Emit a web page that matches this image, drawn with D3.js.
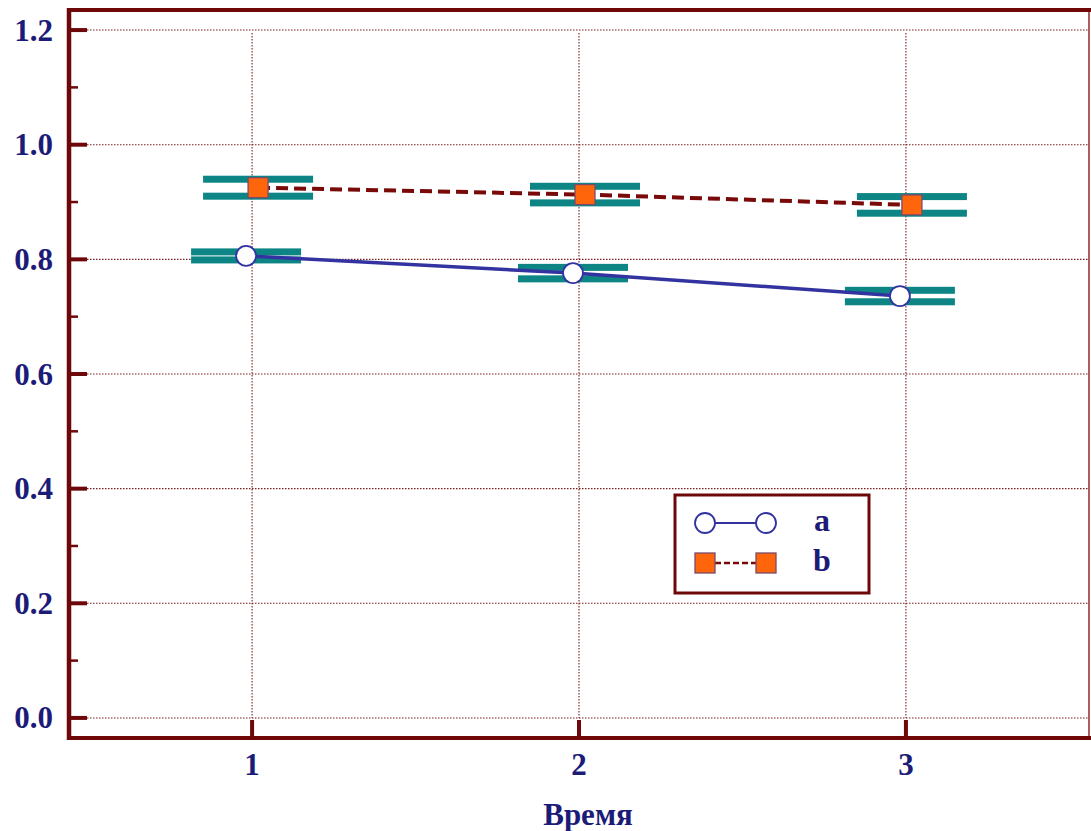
<!DOCTYPE html>
<html><head><meta charset="utf-8">
<script src="https://cdn.jsdelivr.net/npm/d3@7"></script>
<style>html,body{margin:0;padding:0;background:#fff;}svg{display:block;}</style>
</head><body><svg id="c" width="1091" height="831"></svg>
<script>
// ---- data ----
const times = [1, 2, 3];
const seriesA = [0.806, 0.776, 0.736];
const errA = [0.007, 0.010, 0.010];
const seriesB = [0.925, 0.913, 0.895];
const errB = [0.0148, 0.0145, 0.0145];
const yTicks = [0.0, 0.2, 0.4, 0.6, 0.8, 1.0, 1.2];
const yMinorTicks = [0.1, 0.3, 0.5, 0.7, 0.9, 1.1];
const xTicks = [1, 2, 3];
const legendLabels = ["a", "b"];
const xTitle = "Время";

// ---- style ----
const axisCol = "#6e0808", textCol = "#1c1c78", gridCol = "#7a1e1e";
const lineA = "#3232a0", lineB = "#7a0a0a", teal = "#0d8585", orange = "#ff650a";
const font = "'Liberation Serif','Times New Roman',serif";
const dodge = 6, capW = 110, capH = 7;

const svg = d3.select("#c");
const x = d3.scaleLinear().domain([0.44, 3.56]).range([69, 1089]);
const y = d3.scaleLinear().domain([-0.035, 1.235]).range([738, 10]);
const L = 69, R = 1089, T = 10, B = 738;

// grid
const g = svg.append("g");
g.selectAll("line.h").data(yTicks).join("line")
  .attr("x1", 87).attr("x2", R).attr("y1", d => y(d)).attr("y2", d => y(d))
  .attr("stroke", gridCol).attr("stroke-width", 1.1).attr("stroke-dasharray", "1.5,1.5");
g.selectAll("line.v").data(xTicks).join("line")
  .attr("x1", d => x(d)).attr("x2", d => x(d)).attr("y1", 33).attr("y2", y(0))
  .attr("stroke", gridCol).attr("stroke-width", 1.1).attr("stroke-dasharray", "1.5,1.5");

// error caps
function caps(vals, errs, off) {
  const d = [];
  vals.forEach((v, i) => { d.push({t: times[i], v: v + errs[i]}); d.push({t: times[i], v: v - errs[i]}); });
  svg.append("g").selectAll("rect").data(d).join("rect")
    .attr("x", e => x(e.t) + off - capW / 2).attr("y", e => y(e.v) - capH / 2)
    .attr("width", capW).attr("height", capH).attr("fill", teal);
}
caps(seriesA, errA, -dodge);
caps(seriesB, errB, dodge);

// lines
const lnA = d3.line().x((d, i) => x(times[i]) - dodge).y(d => y(d));
const lnB = d3.line().x((d, i) => x(times[i]) + dodge).y(d => y(d));
svg.append("path").attr("d", lnA(seriesA)).attr("fill", "none").attr("stroke", lineA).attr("stroke-width", 3.5);
svg.append("path").attr("d", lnB(seriesB)).attr("fill", "none").attr("stroke", lineB).attr("stroke-width", 4).attr("stroke-dasharray", "12,6");

// markers
svg.append("g").selectAll("circle").data(seriesA).join("circle")
  .attr("cx", (d, i) => x(times[i]) - dodge).attr("cy", d => y(d)).attr("r", 10)
  .attr("fill", "#fff").attr("stroke", lineA).attr("stroke-width", 1.8);
svg.append("g").selectAll("rect").data(seriesB).join("rect")
  .attr("x", (d, i) => x(times[i]) + dodge - 10).attr("y", d => y(d) - 10)
  .attr("width", 20).attr("height", 20)
  .attr("fill", orange).attr("stroke", "#7a4a6a").attr("stroke-width", 1.3);

// axes frame
svg.append("line").attr("x1", R).attr("x2", R).attr("y1", T).attr("y2", B).attr("stroke", "#8a2a2a").attr("stroke-width", 1.5);
svg.append("line").attr("x1", L - 2).attr("x2", R + 2).attr("y1", T).attr("y2", T).attr("stroke", axisCol).attr("stroke-width", 4);
svg.append("line").attr("x1", L - 2).attr("x2", R + 2).attr("y1", B).attr("y2", B).attr("stroke", axisCol).attr("stroke-width", 4);
svg.append("line").attr("x1", L).attr("x2", L).attr("y1", T - 2).attr("y2", B + 2).attr("stroke", axisCol).attr("stroke-width", 4.5);

// y ticks
svg.append("g").selectAll("line").data(yTicks).join("line")
  .attr("x1", L).attr("x2", 87).attr("y1", d => y(d)).attr("y2", d => y(d))
  .attr("stroke", axisCol).attr("stroke-width", 4);
svg.append("g").selectAll("line").data(yMinorTicks).join("line")
  .attr("x1", L).attr("x2", 78).attr("y1", d => y(d)).attr("y2", d => y(d))
  .attr("stroke", axisCol).attr("stroke-width", 2.5);
svg.append("g").selectAll("text").data(yTicks).join("text")
  .attr("x", 53).attr("y", d => y(d) + 10.5).attr("text-anchor", "end")
  .attr("font-family", font).attr("font-weight", "bold").attr("font-size", 31)
  .attr("fill", textCol).text(d => d.toFixed(1));

// x ticks
svg.append("g").selectAll("line").data(xTicks).join("line")
  .attr("x1", d => x(d)).attr("x2", d => x(d)).attr("y1", 720).attr("y2", B)
  .attr("stroke", axisCol).attr("stroke-width", 4);
svg.append("g").selectAll("text").data(xTicks).join("text")
  .attr("x", d => x(d)).attr("y", 775).attr("text-anchor", "middle")
  .attr("font-family", font).attr("font-weight", "bold").attr("font-size", 31)
  .attr("fill", textCol).text(d => d);
svg.append("text").attr("x", 588).attr("y", 825).attr("text-anchor", "middle")
  .attr("font-family", font).attr("font-weight", "bold").attr("font-size", 31)
  .attr("fill", textCol).text(xTitle);

// legend
const lg = svg.append("g");
lg.append("rect").attr("x", 675).attr("y", 495).attr("width", 194).attr("height", 98)
  .attr("fill", "#fff").attr("stroke", axisCol).attr("stroke-width", 3);
const ly = [523, 563];
lg.append("line").attr("x1", 705).attr("x2", 766).attr("y1", ly[0]).attr("y2", ly[0]).attr("stroke", lineA).attr("stroke-width", 2);
lg.selectAll("circle").data([705, 766]).join("circle").attr("cx", d => d).attr("cy", ly[0]).attr("r", 10)
  .attr("fill", "#fff").attr("stroke", lineA).attr("stroke-width", 1.8);
lg.append("line").attr("x1", 715).attr("x2", 756).attr("y1", ly[1]).attr("y2", ly[1]).attr("stroke", lineB).attr("stroke-width", 2.5).attr("stroke-dasharray", "6,3");
lg.selectAll("rect.m").data([705, 766]).join("rect").attr("class", "m")
  .attr("x", d => d - 10).attr("y", ly[1] - 10).attr("width", 20).attr("height", 20)
  .attr("fill", orange).attr("stroke", "#7a4a6a").attr("stroke-width", 1.3);
lg.selectAll("text").data(legendLabels).join("text")
  .attr("x", 822).attr("y", (d, i) => ly[i] + 8).attr("text-anchor", "middle")
  .attr("font-family", font).attr("font-weight", "bold").attr("font-size", 32)
  .attr("fill", textCol).text(d => d);
</script></body></html>
